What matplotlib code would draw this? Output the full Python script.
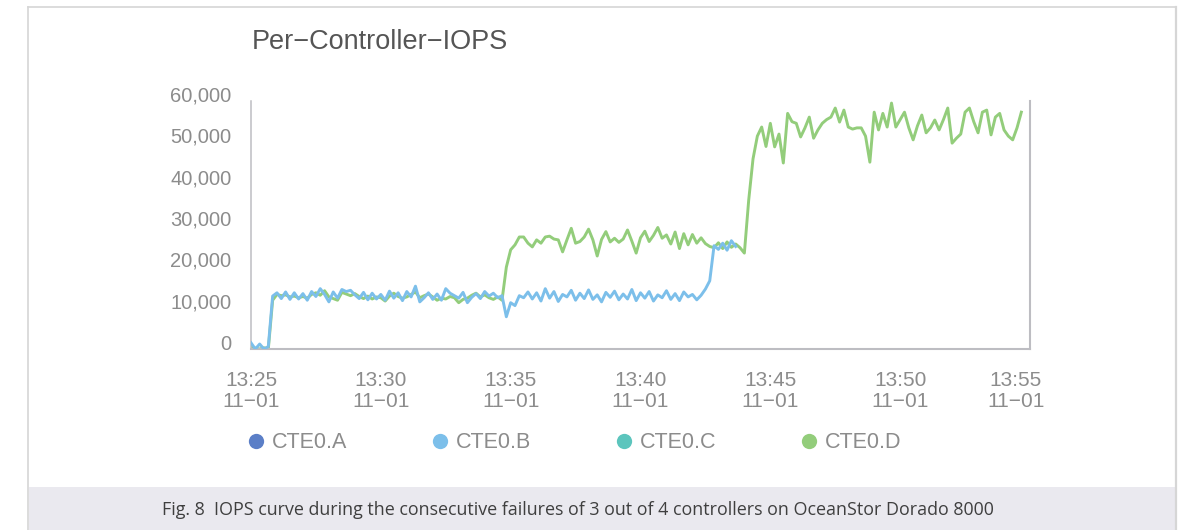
import numpy as np
import pandas as pd
import matplotlib
matplotlib.use("Agg")
import matplotlib.pyplot as plt
import matplotlib.dates as mdates
from matplotlib.lines import Line2D
from matplotlib.patches import Rectangle
from matplotlib.transforms import ScaledTranslation

plt.rcParams['font.family'] = ['Liberation Sans', 'DejaVu Sans']

# controller names and legend colours
names = ['CTE0.A', 'CTE0.B', 'CTE0.C', 'CTE0.D']
colors = ['#5b7fc7', '#7cbfea', '#5cc5bd', '#93cd7b']

# IOPS samples, one every 10 s from 13:25:00
cte0_b = [1500, 0, 1200, 0, 600, 12800, 13600, 12200, 13800, 12000,
          13600, 12100, 13400, 11800, 13900, 12700, 14600, 13200, 11400, 13800,
          12300, 14400, 13900, 14200, 13100, 12200, 13700, 11900, 13500, 12100,
          13200, 11800, 14000, 12300, 13600, 11700, 13900, 12600, 15200, 11400,
          12400, 13600, 12000, 13300, 11800, 14600, 13500, 12900, 12300, 13700,
          11200, 12500, 13400, 12200, 13900, 12800, 13500, 12400, 12900, 7800,
          11200, 10500, 12900, 12400, 13800, 12100, 13600, 11600, 14600, 12300,
          13900, 11500, 13200, 12600, 14200, 11800, 13500, 12200, 14300, 12000,
          13100, 11400, 13700, 12500, 14000, 11900, 13300, 12100, 14400, 11700,
          13600, 12300, 13900, 11600, 13100, 12400, 14100, 12000, 13400, 11700,
          13800, 12600, 13200, 11900, 13000, 14500, 16500, 25000, 24100, 25600,
          23900, 26200, 24800]

cte0_d = [500, 200, 0, 300, 0, 11800, 13200, 12900, 13100, 12600,
          12800, 12400, 12700, 12300, 13200, 13600, 13000, 14100, 12600, 12200,
          11800, 13700, 13300, 12900, 13400, 12700, 12200, 12800, 12100, 12600,
          12400, 11600, 12800, 13500, 12700, 12300, 12600, 13200, 13800, 12400,
          12900, 13300, 12600, 11800, 12300, 12100, 12700, 12400, 11200, 12000,
          12300, 13000, 13500, 12600, 13100, 12400, 12000, 12600, 11800, 19800,
          24000, 25200, 27100, 27100, 25600, 24700, 26400, 25600, 27100, 27300,
          26600, 26400, 23500, 26400, 29200, 25600, 26000, 27100, 29000, 26400,
          22500, 26500, 28400, 25900, 26800, 25800, 26600, 28800, 26100, 23200,
          26900, 28500, 26000, 27500, 29400, 26800, 27600, 25400, 28300, 24300,
          27900, 25200, 27700, 25600, 26900, 25500, 24800, 24500, 25700, 24300,
          25900, 24600, 25400, 24500, 23200, 36000, 46000, 51500, 53700, 49000,
          54600, 48900, 52000, 45000, 57000, 55000, 54600, 51300, 53500, 56100,
          51000, 53000, 54600, 55500, 56100, 58300, 54900, 57800, 53700, 53200,
          53500, 53500, 51500, 45200, 57300, 53000, 57000, 53700, 59500, 53700,
          55500, 57300, 53500, 50600, 54000, 56600, 52300, 53500, 55400, 53000,
          55500, 58300, 49800, 51000, 52000, 57300, 58300, 55000, 52300, 57300,
          57800, 51800, 56100, 57000, 53000, 51500, 50600, 53500, 57300]

times = pd.date_range('2023-11-01 13:25:00', periods=len(cte0_d), freq='10s')
y_ticks = [0, 10000, 20000, 30000, 40000, 50000, 60000]
x_ticks = pd.date_range('2023-11-01 13:25:00', '2023-11-01 13:55:00', freq='5min')

W, H = 1198, 530
fig = plt.figure(figsize=(W / 100, H / 100), dpi=100)
fig.patch.set_facecolor('white')

# outer frame and caption band
frame_c = '#d6d6d6'
fig.add_artist(Line2D([28 / W, 1176 / W], [1 - 7 / H, 1 - 7 / H], transform=fig.transFigure, color=frame_c, lw=1.2))
fig.add_artist(Line2D([28 / W, 28 / W], [0, 1 - 7 / H], transform=fig.transFigure, color=frame_c, lw=1.2))
fig.add_artist(Line2D([1176 / W, 1176 / W], [0, 1 - 7 / H], transform=fig.transFigure, color=frame_c, lw=1.6))
fig.add_artist(Rectangle((29 / W, 0), (1175 - 29) / W, 43 / H, transform=fig.transFigure,
                         facecolor='#eae9ef', edgecolor='none', zorder=0))
fig.text(578 / W, 1 - 510 / H,
         'Fig. 8  IOPS curve during the consecutive failures of 3 out of 4 controllers on OceanStor Dorado 8000',
         ha='center', va='center', fontsize=12.9, color='#3f3f3f', family=['Open Sans', 'DejaVu Sans'])

ax = fig.add_axes([251 / W, 1 - 349 / H, (1030 - 251) / W, 248 / H])
ax.plot(times, cte0_d, color=colors[3], lw=2.1, zorder=2, solid_joinstyle='round')
ax.plot(times[:len(cte0_b)], cte0_b, color=colors[1], lw=2.1, zorder=3, solid_joinstyle='round')

ax.set_xlim(x_ticks[0], x_ticks[-1])
ax.set_ylim(0, 60000)
ax.set_yticks(y_ticks)
ax.set_yticklabels([f'{v:,}' for v in y_ticks])
ax.set_xticks(x_ticks)
ax.xaxis.set_major_formatter(mdates.DateFormatter('%H:%M\n%m\u2212%d'))

for side in ['left', 'bottom', 'right']:
    ax.spines[side].set_color('#bdbdc2')
    ax.spines[side].set_linewidth(1.5)
ax.spines['left'].set_linewidth(1.1)
ax.spines['top'].set_visible(False)

ax.tick_params(axis='y', length=0, pad=14, labelsize=14.5, labelcolor='#8c8c8c')
ax.tick_params(axis='x', length=0, pad=16, labelsize=15, labelcolor='#8c8c8c')
for lab in ax.get_xticklabels():
    lab.set_linespacing(1.1)

# nudge tick labels like the original renderer
for t in ax.yaxis.get_major_ticks():
    t.label1.set_transform(t.label1.get_transform() + ScaledTranslation(0, 7 / 100, fig.dpi_scale_trans))
last = ax.xaxis.get_major_ticks()[-1]
last.label1.set_transform(last.label1.get_transform() + ScaledTranslation(-14 / 100, 0, fig.dpi_scale_trans))

fig.text(252 / W, 1 - 42 / H, 'Per\u2212Controller\u2212IOPS', ha='left', va='center',
         fontsize=19.5, color='#555555')

handles = [Line2D([], [], ls='', marker='o', markersize=11, color=c, markeredgewidth=0) for c in colors]
fig.legend(handles, names, loc='center left', bbox_to_anchor=(247 / W, 1 - 443 / H),
           ncol=4, frameon=False, fontsize=15.5, labelcolor='#8c8c8c',
           handlelength=0.8, handletextpad=0.35, columnspacing=3.9, borderpad=0, borderaxespad=0)

fig.savefig('out.png', dpi=100)
